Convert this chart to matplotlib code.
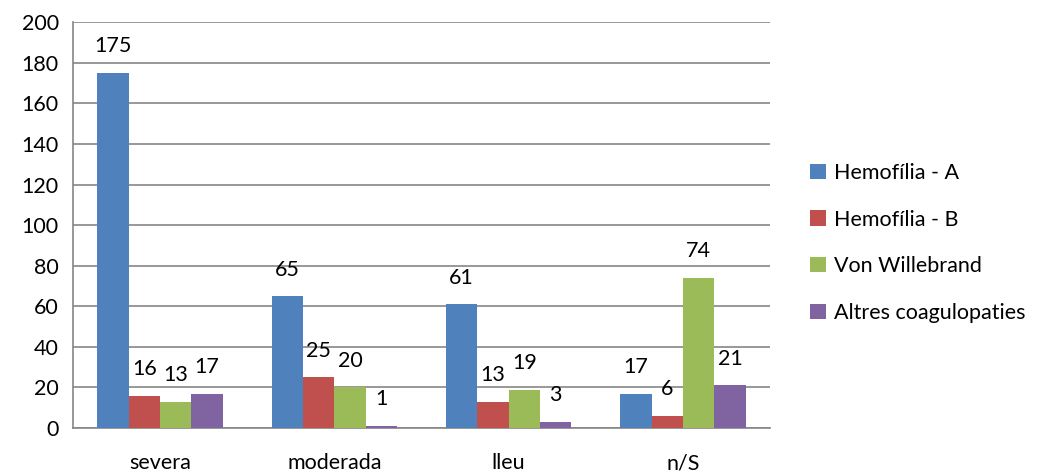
import matplotlib.pyplot as plt
import numpy as np

plt.rcParams['font.family'] = ['Lato', 'DejaVu Sans']

categories = ['severa', 'moderada', 'lleu', 'n/S']
series = ['Hemofília - A', 'Hemofília - B', 'Von Willebrand', 'Altres coagulopaties']
values = [
    [175, 65, 61, 17],   # Hemofília - A
    [16, 25, 13, 6],     # Hemofília - B
    [13, 20, 19, 74],    # Von Willebrand
    [17, 1, 3, 21],      # Altres coagulopaties
]
colors = ['#4F81BD', '#C0504D', '#9BBB59', '#8064A2']

fs = 15.5

fig = plt.figure(figsize=(10.55, 4.73), dpi=100)
ax = fig.add_axes([0.069, 0.095, 0.661, 0.858])

x = np.arange(len(categories))
w = 0.18
for i, (name, vals, c) in enumerate(zip(series, values, colors)):
    pos = x + (i - 1.5) * w
    ax.bar(pos, vals, w, color=c, label=name, zorder=3)
    for xb, v in zip(pos, vals):
        ax.annotate(str(v), (xb, v), xytext=(0, 12), textcoords='offset points',
                    ha='center', va='bottom', fontsize=fs, color='black')

ax.set_xlim(-0.5, len(categories) - 0.5)
ax.set_ylim(0, 200)
ax.set_yticks(range(0, 201, 20))
ax.set_xticks(x)
ax.set_xticklabels(categories)
ax.tick_params(axis='both', labelsize=fs, length=0, colors='black')
ax.tick_params(axis='x', pad=18)
ax.tick_params(axis='y', pad=10)
ax.grid(axis='y', color='#868686', linewidth=1.2, zorder=0)
for s in ['top', 'right']:
    ax.spines[s].set_visible(False)
for s in ['left', 'bottom']:
    ax.spines[s].set_color('#868686')
    ax.spines[s].set_linewidth(1.2)

ax.legend(loc='center left', bbox_to_anchor=(1.03, 0.456), frameon=False,
          fontsize=fs, handlelength=0.7, handleheight=0.7,
          handletextpad=0.4, labelspacing=1.25)

fig.savefig('out.png', dpi=100)
